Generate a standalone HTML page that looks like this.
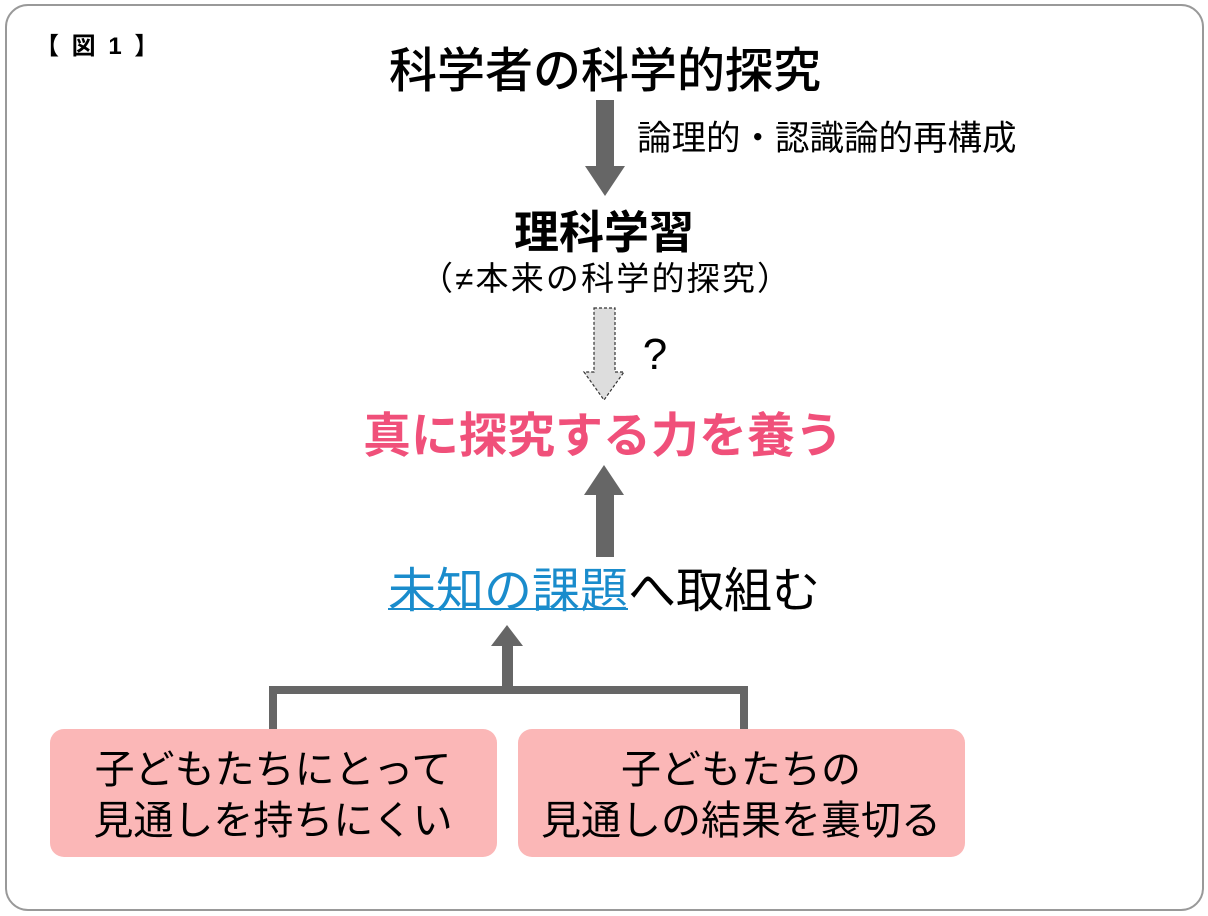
<!DOCTYPE html>
<html><head><meta charset="utf-8"><style>
html,body{margin:0;padding:0;background:#fff;}
svg{display:block;}
text{font-family:"Liberation Sans","Noto Sans CJK JP",sans-serif;}
</style></head><body>
<svg width="1208" height="916" viewBox="0 0 1208 916" xmlns="http://www.w3.org/2000/svg">
<rect x="6" y="5" width="1197" height="905" rx="22" fill="#fff" stroke="#999" stroke-width="2"/>
<text x="35" y="54" font-size="24" font-weight="bold" fill="#000" letter-spacing="3">【 図 1 】</text>
<text x="605" y="87" font-size="48" text-anchor="middle" font-weight="500" fill="#000">科学者の科学的探究</text>
<polygon points="596,100 614,100 614,166 625,166 605,196 585,166 596,166" fill="#666"/>
<text x="637" y="150" font-size="34.5" fill="#000">論理的・認識論的再構成</text>
<text x="604" y="248" font-size="45" text-anchor="middle" font-weight="bold" fill="#000">理科学習</text>
<text x="605" y="290" font-size="33" text-anchor="middle" fill="#000" textLength="370" lengthAdjust="spacing">（≠本来の科学的探究）</text>
<polygon points="594,308 615,308 615,372 624,372 604,400 584,372 594,372" fill="#ddd" stroke="#333" stroke-width="1.2" stroke-dasharray="3,2"/>
<text x="655" y="369" font-size="44" text-anchor="middle" fill="#000">?</text>
<text x="603" y="452" font-size="48" text-anchor="middle" font-weight="bold" fill="#f0507a">真に探究する力を養う</text>
<polygon points="596,557 614,557 614,495 624,495 604,465 584,495 596,495" fill="#666"/>
<text x="388" y="607" font-size="48" fill="#000"><tspan fill="#1a8ccc">未知の課題</tspan>へ取組む</text>
<rect x="388" y="608" width="240" height="2" fill="#1a8ccc"/>
<polygon points="502,686 513,686 513,646 523,646 507,625 491,646 502,646" fill="#666"/>
<path d="M273,729 V690 H744 V729" fill="none" stroke="#666" stroke-width="8"/>
<rect x="50" y="729" width="447" height="128" rx="14" fill="#fbb7b7"/>
<rect x="518" y="729" width="447" height="128" rx="14" fill="#fbb7b7"/>
<text x="273" y="783" font-size="40" text-anchor="middle" fill="#000">子どもたちにとって</text>
<text x="273" y="834" font-size="40" text-anchor="middle" fill="#000">見通しを持ちにくい</text>
<text x="741" y="783" font-size="40" text-anchor="middle" fill="#000">子どもたちの</text>
<text x="741" y="834" font-size="40" text-anchor="middle" fill="#000">見通しの結果を裏切る</text>
</svg>
</body></html>
